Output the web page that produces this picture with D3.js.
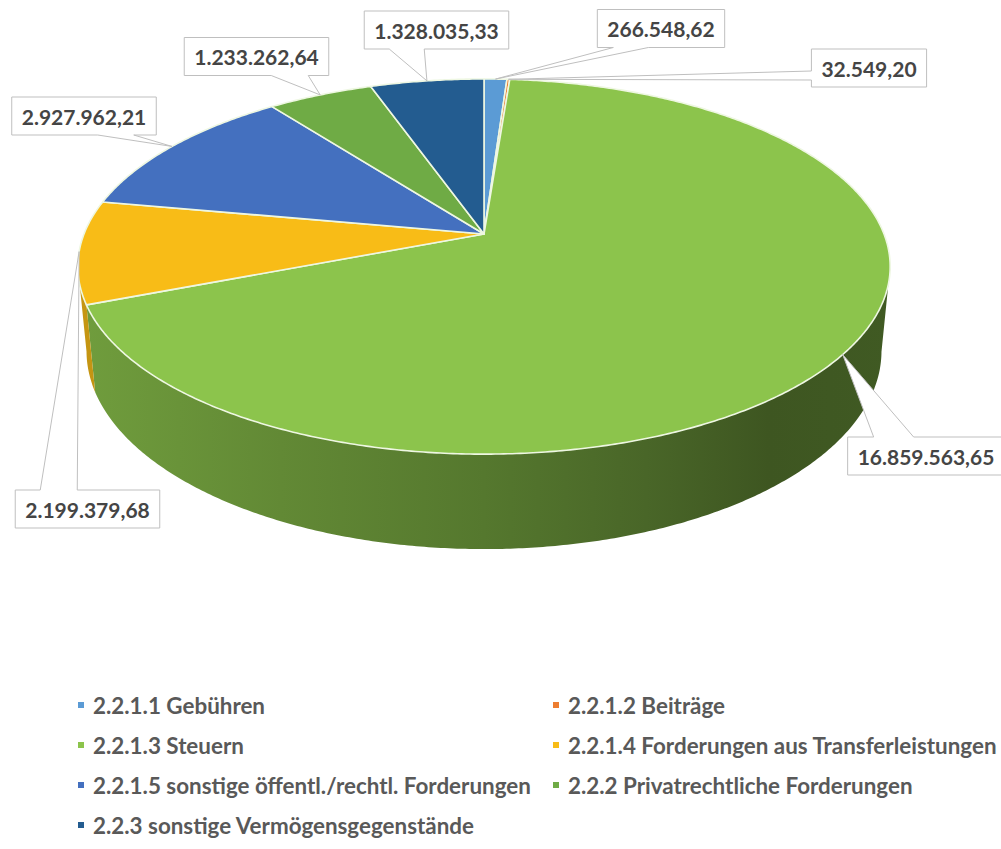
<!DOCTYPE html>
<html>
<head>
<meta charset="utf-8">
<script src="https://cdn.jsdelivr.net/npm/d3@7"></script>
<style>
  html, body { margin: 0; padding: 0; background: #fff; }
  svg { display: block; }
  text { font-family: Lato, "Open Sans", sans-serif; }
</style>
</head>
<body>
<svg id="chart" width="1001" height="849"></svg>
<script>
// Forderungen und sonstige Vermögensgegenstände (EUR)
const categories = [
  "2.2.1.1 Gebühren",
  "2.2.1.2 Beiträge",
  "2.2.1.3 Steuern",
  "2.2.1.4 Forderungen aus Transferleistungen",
  "2.2.1.5 sonstige öffentl./rechtl. Forderungen",
  "2.2.2 Privatrechtliche Forderungen",
  "2.2.3 sonstige Vermögensgegenstände"
];
const values = [266548.62, 32549.20, 16859563.65, 2199379.68, 2927962.21, 1233262.64, 1328035.33];
const colors = ["#5b9bd5", "#ed7d31", "#8cc44c", "#f8bc17", "#4470bf", "#6fab45", "#235c90"];

// callout placement per slice: box centre, edge carrying the pointer, pointer base offsets
const callouts = [
  { cx: 661,   cy: 28.5, edge: "b", a: 16, b: 51 },
  { cx: 869,   cy: 68,   edge: "l", a: 22, b: 31 },
  { cx: 926,   cy: 456,  edge: "t", a: 26, b: 66 },
  { cx: 87.5,  cy: 509,  edge: "t", a: 25, b: 62 },
  { cx: 84,    cy: 116,  edge: "b", a: 86, b: 122 },
  { cx: 256.5, cy: 56.5, edge: "b", a: 87, b: 124 },
  { cx: 436.5, cy: 30,   edge: "b", a: 25, b: 60 }
];

const de = d3.formatLocale({ decimal: ",", thousands: ".", grouping: [3], currency: ["", " €"] });
const fmt = de.format(",.2f");

const svg = d3.select("#chart");
const defs = svg.append("defs");

// perspective view of a tilted disc
const CX = 484, CY = 234, F = 2052, D = 5.13, H = 0.239;
const sinP = 0.4548, cosP = Math.sqrt(1 - sinP * sinP);
function proj(theta, r, Y) {
  const X = r * Math.sin(theta), Z = r * Math.cos(theta);
  const yc = Y * cosP + Z * sinP;
  const zc = Z * cosP - Y * sinP;
  const w = D + zc;
  return [CX + F * X / w, CY - F * yc / w];
}
function arcPts(a0, a1, Y) {
  const n = Math.max(2, Math.ceil(Math.abs(a1 - a0) / (Math.PI / 360)));
  return d3.range(n + 1).map(i => proj(a0 + (a1 - a0) * i / n, 1, Y));
}
const line = d3.line();

const arcs = d3.pie().sort(null).value(d => d)(values);

// silhouette angles: front wall is visible between them
const front0 = Math.acos(-cosP / D), front1 = 2 * Math.PI - front0;
const xLeft = proj(front1, 1, 0)[0], xRight = proj(front0, 1, 0)[0];

// shading across the wall, lit from the left
const shade = [[0, 0.80], [0.25, 0.70], [0.5, 0.61], [0.7, 0.52], [0.85, 0.44], [1, 0.46]];
arcs.forEach((a, i) => {
  const c = d3.rgb(colors[i]);
  const g = defs.append("linearGradient")
    .attr("id", "wall" + i)
    .attr("gradientUnits", "userSpaceOnUse")
    .attr("x1", xLeft).attr("x2", xRight).attr("y1", 0).attr("y2", 0);
  shade.forEach(([t, k]) => {
    g.append("stop").attr("offset", t)
      .attr("stop-color", d3.rgb(c.r * k, c.g * k, c.b * k).formatHex());
  });
});

const pie = svg.append("g");

// outer walls
arcs.forEach((a, i) => {
  const lo = Math.max(a.startAngle, front0), hi = Math.min(a.endAngle, front1);
  if (hi <= lo) return;
  const pts = arcPts(lo, hi, 0).concat(arcPts(hi, lo, -H));
  pie.append("path")
    .attr("d", line(pts) + "Z")
    .attr("fill", `url(#wall${i})`);
});

// top faces
arcs.forEach((a, i) => {
  const pts = [proj(0, 0, 0)].concat(arcPts(a.startAngle, a.endAngle, 0));
  pie.append("path")
    .attr("d", line(pts) + "Z")
    .attr("fill", colors[i])
    .attr("stroke", "#eef7e2")
    .attr("stroke-width", 1.6)
    .attr("stroke-linejoin", "round");
});

// value callouts
const labels = svg.append("g");
arcs.forEach((a, i) => {
  const co = callouts[i];
  const mid = (a.startAngle + a.endAngle) / 2;
  const tip = proj(mid, 1, 0);
  const g = labels.append("g");
  const path = g.append("path");
  const t = g.append("text")
    .attr("x", co.cx).attr("y", co.cy)
    .attr("text-anchor", "middle")
    .attr("dominant-baseline", "central")
    .attr("font-size", 21)
    .attr("font-weight", 700)
    .attr("fill", "#454545")
    .text(fmt(values[i]));
  const w = t.node().getComputedTextLength() + 20, h = 38;
  const x0 = co.cx - w / 2, x1 = co.cx + w / 2, y0 = co.cy - h / 2, y1 = co.cy + h / 2;
  const pts = [[x0, y0]];
  if (co.edge === "t") pts.push([x0 + co.a, y0], tip, [x0 + co.b, y0]);
  pts.push([x1, y0]);
  if (co.edge === "r") pts.push([x1, y0 + co.a], tip, [x1, y0 + co.b]);
  pts.push([x1, y1]);
  if (co.edge === "b") pts.push([x0 + co.b, y1], tip, [x0 + co.a, y1]);
  pts.push([x0, y1]);
  if (co.edge === "l") pts.push([x0, y0 + co.b], tip, [x0, y0 + co.a]);
  path.attr("d", line(pts) + "Z")
    .attr("fill", "#fff")
    .attr("stroke", "#bfbfbf")
    .attr("stroke-width", 1);
});

// legend, two columns
const legendCols = [78, 553], legendRows = [705, 745, 785, 825];
const legend = svg.append("g");
categories.forEach((name, i) => {
  const x = legendCols[i % 2], y = legendRows[Math.floor(i / 2)];
  legend.append("rect")
    .attr("x", x).attr("y", y - 3)
    .attr("width", 6).attr("height", 6)
    .attr("fill", colors[i]);
  legend.append("text")
    .attr("x", x + 15).attr("y", y)
    .attr("dominant-baseline", "central")
    .attr("font-size", 22.4)
    .attr("font-weight", 700)
    .attr("fill", "#595959")
    .text(name);
});
</script>
</body>
</html>
